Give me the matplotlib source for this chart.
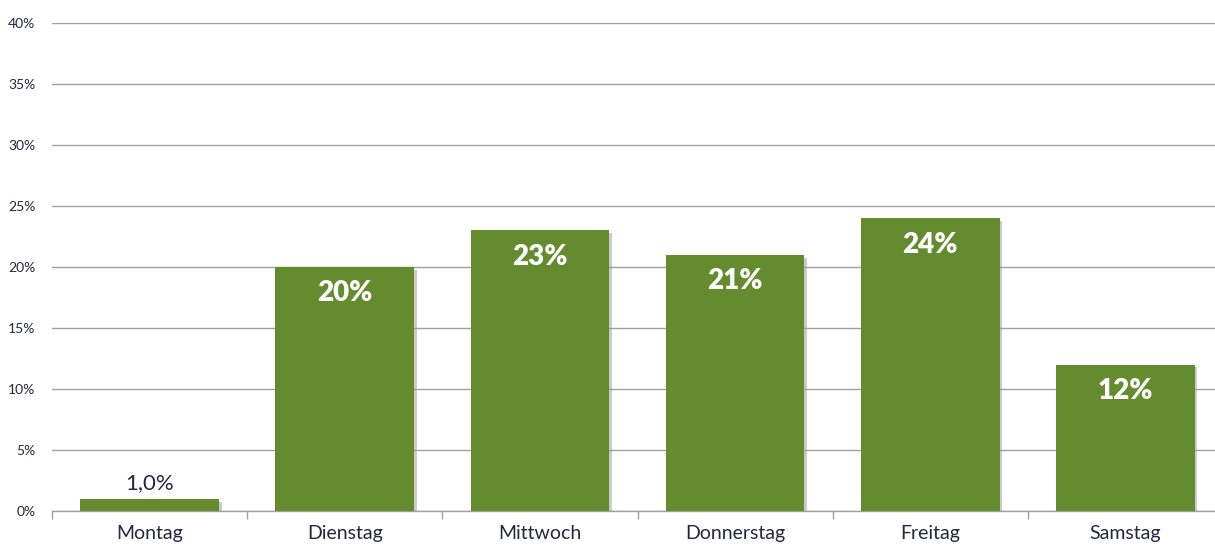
import matplotlib
matplotlib.use('Agg')
import matplotlib.pyplot as plt
import matplotlib.patheffects as pe
import numpy as np

# Daten
tage = ['Montag', 'Dienstag', 'Mittwoch', 'Donnerstag', 'Freitag', 'Samstag']
anteile = [1.0, 20, 23, 21, 24, 12]
beschriftung = ['1,0%', '20%', '23%', '21%', '24%', '12%']

gruen = '#648C2F'
text_farbe = '#262640'

plt.rcParams['font.family'] = ['Lato', 'DejaVu Sans']

fig = plt.figure(figsize=(12.15, 5.47), dpi=100)
ax = fig.add_axes([52 / 1215, 36 / 547, 1171 / 1215, 488 / 547])

x = np.arange(len(tage))
bars = ax.bar(x, anteile, width=0.71, color=gruen, zorder=3,
              path_effects=[pe.SimplePatchShadow(offset=(2, -2), shadow_rgbFace='#999999', alpha=0.5),
                            pe.Normal()])

# Wertebeschriftung
for xi, wert, txt in zip(x, anteile, beschriftung):
    if wert < 5:
        ax.annotate(txt, (xi, wert), xytext=(0, 4), textcoords='offset points',
                    ha='center', va='bottom', fontsize=16, color=text_farbe, zorder=4)
    else:
        ax.annotate(txt, (xi, wert), xytext=(0, -19), textcoords='offset points',
                    ha='center', va='center', fontsize=20, fontweight='heavy',
                    color='white', zorder=4)

ax.set_xlim(-0.5, len(tage) - 0.5)
ax.set_ylim(0, 40)
ax.set_yticks(np.arange(0, 41, 5))
ax.set_yticklabels([f'{v}%' for v in range(0, 41, 5)], fontsize=10, color=text_farbe)
ax.yaxis.grid(True, color='#A0A0A0', linewidth=1, zorder=0)
ax.set_axisbelow(True)

ax.set_xticks(x)
ax.set_xticklabels(tage, fontsize=14, color=text_farbe)
ax.set_xticks(np.arange(-0.5, len(tage), 1), minor=True)
ax.tick_params(axis='x', which='major', length=0, pad=10)
ax.tick_params(axis='x', which='minor', length=6, color='#A0A0A0', width=1)
ax.tick_params(axis='y', length=0, pad=12)

for s in ['top', 'right', 'left']:
    ax.spines[s].set_visible(False)
ax.spines['bottom'].set_color('#A0A0A0')
ax.spines['bottom'].set_linewidth(1)

fig.savefig('out.png', dpi=100)
